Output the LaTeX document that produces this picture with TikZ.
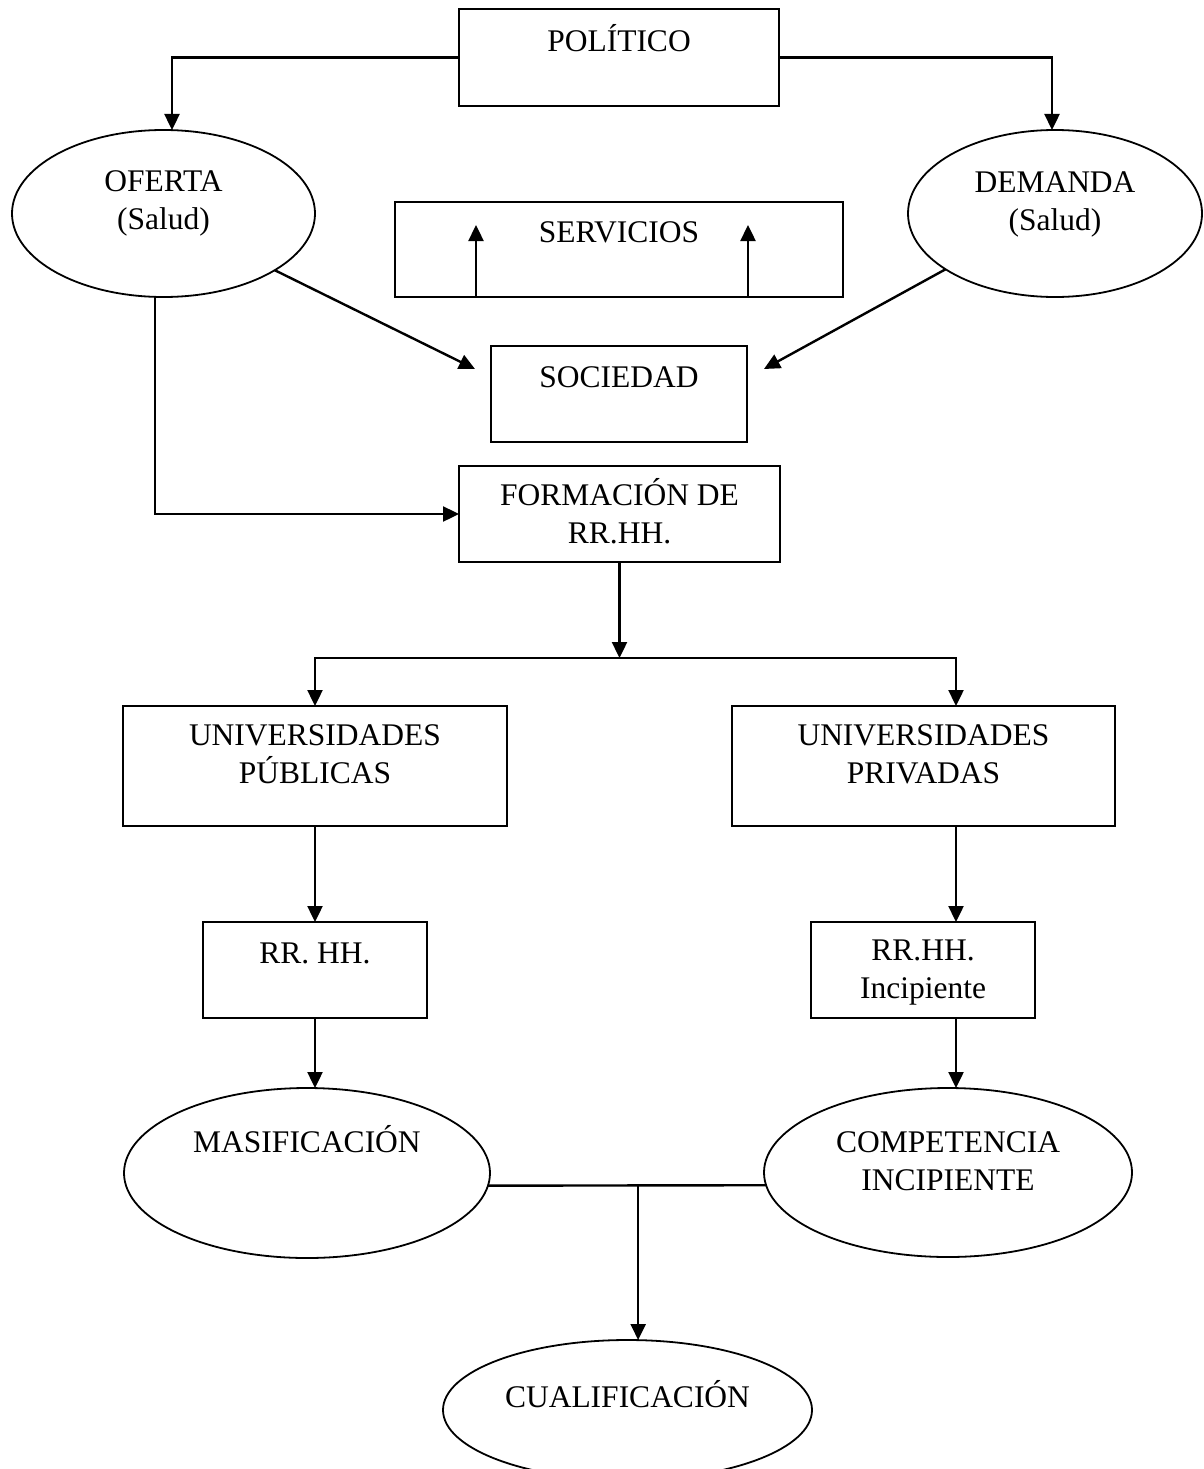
\documentclass[tikz,border=0pt]{standalone}
\usepackage{fontspec}
\setmainfont{Liberation Serif}
\usetikzlibrary{shapes.geometric,arrows.meta,calc}

\begin{document}
\begin{tikzpicture}[
  x=1pt, y=-1pt,
  font=\fontsize{31.5}{37.5}\selectfont,
  box/.style={draw, line width=2.4pt, align=center, inner sep=0pt, outer sep=0pt},
  oval/.style={draw, ellipse, line width=1.8pt, align=center, inner sep=0pt, outer sep=0pt},
  txtup/.style={text height=0pt, text depth=#1},
  txtdn/.style={text depth=0pt, text height=#1},
  arr/.style={line width=2.4pt, -{Triangle[length=16pt,width=15pt]}},
  ln/.style={line width=2.4pt}
]
\useasboundingbox (0,0) rectangle (1204,1469);
\node[box, txtup=11pt, minimum width=320pt, minimum height=97pt] (pol) at (619,57.5) {POLÍTICO};
\node[oval, txtdn=31pt, minimum width=303pt, minimum height=167pt] (ofe) at (163.5,213.5) {OFERTA\\(Salud)};
\node[oval, txtdn=33pt, minimum width=294pt, minimum height=167pt] (dem) at (1055,213.5) {DEMANDA\\(Salud)};
\node[box, txtup=15pt, minimum width=448pt, minimum height=95pt] (ser) at (619,249.5) {SERVICIOS};
\node[box, txtup=14pt, minimum width=256pt, minimum height=96pt] (soc) at (619,394) {SOCIEDAD};
\node[box, txtdn=58pt, minimum width=321pt, minimum height=96pt] (form) at (619.5,514) {FORMACIÓN DE\\RR.HH.};
\node[box, txtdn=34pt, minimum width=384pt, minimum height=120pt] (upub) at (315,766) {UNIVERSIDADES\\PÚBLICAS};
\node[box, txtdn=34pt, minimum width=383pt, minimum height=120pt] (upriv) at (923.5,766) {UNIVERSIDADES\\PRIVADAS};
\node[box, txtup=14pt, minimum width=224pt, minimum height=96pt] (rrp) at (315,970) {RR. HH.};
\node[box, txtdn=56pt, minimum width=224pt, minimum height=96pt] (rri) at (923,970) {RR.HH.\\Incipiente};
\node[oval, txtup=42pt, minimum width=366pt, minimum height=170pt] (mas) at (307,1173) {MASIFICACIÓN};
\node[oval, txtdn=35pt, minimum width=368pt, minimum height=169pt] (comp) at (948,1172.5) {COMPETENCIA\\INCIPIENTE};
\node[oval, txtup=6pt, minimum width=369pt, minimum height=140pt] (cual) at (627.5,1410) {CUALIFICACIÓN};

% top part
\draw[arr] (pol.west) -| ([xshift=8.5pt]ofe.north);
\draw[arr] (pol.east) -| ([xshift=-3pt]dem.north);
\draw[arr] ([xshift=-143pt]ser.south) -- ([xshift=-143pt,yshift=72pt]ser.south);
\draw[arr] ([xshift=129pt]ser.south) -- ([xshift=129pt,yshift=72pt]ser.south);
\draw[arr] (ofe.-27) -- ([xshift=-16pt,yshift=-23pt]soc.north west);
\draw[arr] (dem.207) -- ([xshift=17pt,yshift=-23pt]soc.north east);
\draw[arr] ([xshift=-8.5pt]ofe.south) |- (form.west);

% branches
\coordinate (fork) at ([yshift=-96pt]form.south);
\draw[arr] (form.south) -- (fork);
\draw[arr] (fork) -| (upub.north);
\draw[arr] (fork) -| ([xshift=32.5pt]upriv.north);
\draw[arr] (upub.south) -- (rrp.north);
\draw[arr] ([xshift=32.5pt]upriv.south) -- ([xshift=33pt]rri.north);
\draw[arr] (rrp.south) -- (rrp.south |- mas.north);
\draw[arr] ([xshift=33pt]rri.south) -- ([xshift=33pt]rri.south |- comp.north);

% bottom
\draw[ln] (mas.-4) -- (comp.184);
\coordinate (join) at ($(mas.-4)!0.54!(comp.184)$);
\draw[arr] (join) -- (join |- cual.north);
\end{tikzpicture}
\end{document}
